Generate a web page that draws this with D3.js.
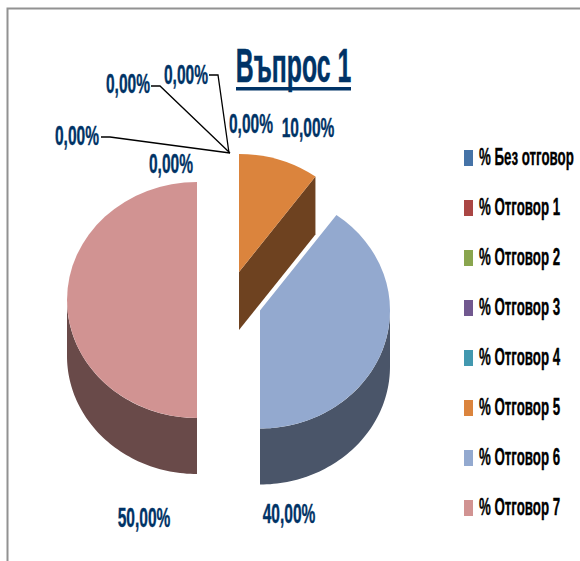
<!DOCTYPE html>
<html><head><meta charset="utf-8">
<script src="https://cdn.jsdelivr.net/npm/d3@7"></script>
<style>html,body{margin:0;padding:0;background:#fff}svg{display:block}
text{font-family:"Liberation Sans",sans-serif;font-weight:700}</style>
</head><body><svg id="c" width="580" height="561"></svg>
<script>
const categories=["% Без отговор","% Отговор 1","% Отговор 2","% Отговор 3","% Отговор 4","% Отговор 5","% Отговор 6","% Отговор 7"];
const values=[0,0,0,0,0,10,40,50];
const colors=["#4573a7","#aa4644","#89a54e","#71588f","#4298af","#db843d","#93a9cf","#d19392"];
const sideColors=["#2a4565","#662a29","#52632f","#443556","#285b69","#6e4220","#4a5569","#694a49"];
const sliceOrder=[6,7,0,1,2,3,4,5]; // drawn starting at 36deg with Отговор 6
const titleText="Въпрос 1";

const rx=130, ry=118, depth=56;
const centers={5:[239,272],6:[260,310.5],7:[197,300]};
const labelPos=[[171,166],[77,138],[128,86],[186,77],[251,126],[308,130],[289,516],[144,520]];
const leaders=[[[101,137],[110,137],[230,153]],[[151,86],[160,86],[230,153]],[[209,75],[218,75],[229,153]]];

const svg=d3.select("#c");
const frame="#929292";
svg.append("path").attr("d","M7.5,561V8.5H580").attr("fill","none").attr("stroke",frame).attr("stroke-width",2);

const pie=d3.pie().sort(null).value(i=>values[i]).startAngle(36*Math.PI/180).endAngle(396*Math.PI/180);
const arcs=pie(sliceOrder).filter(d=>d.value>0);
const arcGen=d3.arc().innerRadius(0).outerRadius(1);
const pt=(c,a,dy=0)=>[c[0]+rx*Math.sin(a),c[1]-ry*Math.cos(a)+dy];
const line=d3.line();

arcs.forEach(d=>{
  const i=d.data, c=centers[i], g=svg.append("g");
  const a0=Math.max(d.startAngle,Math.PI/2), a1=Math.min(d.endAngle,3*Math.PI/2);
  if(a1>a0){
    const steps=d3.range(0,61).map(k=>a0+(a1-a0)*k/60);
    const pts=[...steps.map(a=>pt(c,a)),...steps.slice().reverse().map(a=>pt(c,a,depth))];
    g.append("path").attr("d",line(pts)+"Z").attr("fill",sideColors[i]);
  }
  if(i===5){
    const e=pt(c,d.endAngle);
    g.append("path").attr("d",line([c,[c[0],c[1]+depth+2],[e[0],e[1]+depth+2],e])+"Z").attr("fill",sideColors[i]);
  }
  g.append("path").attr("d",arcGen(d))
    .attr("transform",`translate(${c[0]},${c[1]}) scale(${rx},${ry})`)
    .attr("fill",colors[i]);
});

leaders.forEach(l=>svg.append("path").attr("d",line(l)).attr("fill","none").attr("stroke","#000").attr("stroke-width",1.3));

const fmt=v=>v.toFixed(2).replace(".",",")+"%";
svg.selectAll("text.lab").data(values).join("text").attr("class","lab")
  .attr("text-anchor","middle").attr("dominant-baseline","middle")
  .attr("transform",(d,i)=>`translate(${labelPos[i][0]},${labelPos[i][1]}) scale(0.74,1.3)`)
  .attr("font-size",21).attr("fill","#003366").attr("stroke","#003366").attr("stroke-width",0.3).text(fmt);

svg.append("text").attr("text-anchor","middle")
  .attr("transform","translate(293.5,82) scale(0.67,1.3)")
  .attr("font-size",37).attr("fill","#003366").attr("stroke","#003366").attr("stroke-width",0.4).text(titleText);
svg.append("rect").attr("x",236).attr("y",87).attr("width",115).attr("height",3.5).attr("fill","#003366");

const legendY=d3.scalePoint().domain(categories).range([158,508]);
const lg=svg.selectAll("g.lg").data(categories).join("g").attr("class","lg")
  .attr("transform",d=>`translate(464,${legendY(d)})`);
lg.append("rect").attr("x",0).attr("y",-8).attr("width",9).attr("height",16).attr("fill",(d,i)=>colors[i]);
lg.append("text").attr("transform","translate(15,7) scale(0.7,1.25)").attr("font-size",19).attr("fill","#000").attr("stroke","#000").attr("stroke-width",0.3).text(d=>d);
</script></body></html>
